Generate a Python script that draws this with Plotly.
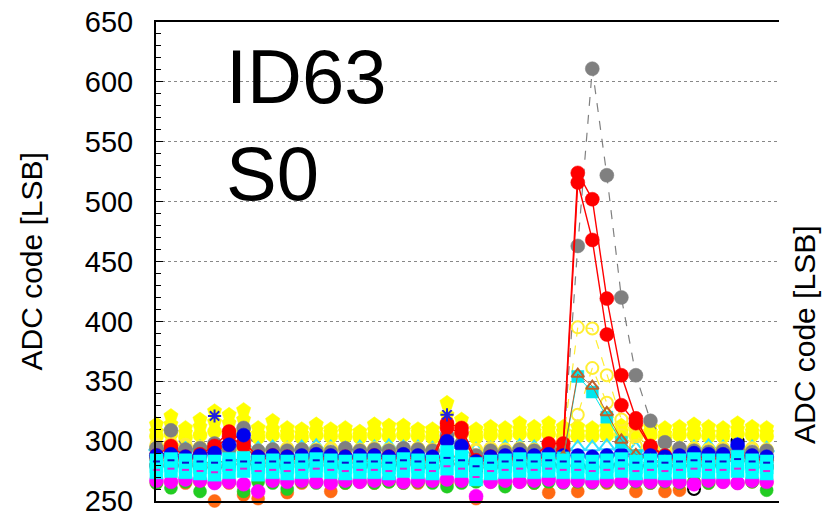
import plotly.graph_objects as go

# Sample index along the readout window
sample = list(range(43))

# ADC codes per channel/event, one list per trace
yellow_a = [314, 321, 311, 318, 325, 322, 326, 311, 317, 311,
            310, 314, 310, 311, 308, 314, 313, 313, 310, 310,
            332, 318, 310, 312, 311, 315, 312, 315, 312, 312,
            311, 312, 313, 311, 312, 311, 312, 314, 312, 311,
            315, 312, 311]
yellow_b = [308, 314, 307, 312, 316, 315, 318, 306, 310, 307,
            306, 309, 307, 308, 305, 309, 308, 309, 307, 306,
            322, 312, 306, 308, 307, 310, 308, 310, 308, 307,
            307, 308, 308, 307, 308, 306, 308, 309, 307, 307,
            310, 308, 307]
yellow_c = [304, 306, 303, 305, 308, 306, 309, 303, 305, 304,
            303, 305, 304, 304, 303, 305, 304, 305, 304, 303,
            312, 306, 303, 305, 304, 306, 305, 306, 304, 304,
            304, 305, 305, 304, 305, 303, 305, 305, 304, 304,
            306, 305, 304]
cyan_tri = [295, 296, 294, 295, 297, 295, 298, 294, 295, 294,
            295, 296, 295, 294, 295, 295, 296, 295, 295, 294,
            301, 297, 293, 294, 295, 296, 295, 296, 295, 295,
            295, 296, 295, 294, 295, 295, 294, 295, 296, 295,
            297, 295, 294]
yellow_ring_1 = [297, 298, 297, 295, 294, 293, 294, 292, 293, 294,
                 293, 293, 294, 293, 293, 294, 293, 293, 294, 293,
                 303, 297, 293, 294, 293, 294, 293, 294, 300, 395,
                 394, 355, 318, 304, 296, 294, 293, 294, 293, 294,
                 293, 294, 293]
yellow_ring_2 = [296, 297, 296, 294, 293, 292, 293, 291, 292, 293,
                 292, 292, 293, 292, 292, 293, 292, 292, 293, 292,
                 300, 296, 292, 293, 292, 293, 292, 293, 298, 322,
                 361, 332, 305, 296, 294, 293, 292, 293, 292, 293,
                 292, 293, 292]
gray = [294, 309, 293, 294, 298, 293, 311, 292, 293, 292,
        293, 292, 291, 294, 292, 293, 292, 294, 293, 292,
        305, 298, 288, 292, 291, 293, 292, 293, 294, 463,
        611, 522, 420, 355, 317, 299, 294, 292, 291, 292,
        293, 291, 292]
red_a = [288, 296, 287, 289, 296, 308, 299, 287, 288, 287,
         287, 288, 286, 287, 286, 288, 287, 288, 287, 286,
         315, 311, 284, 287, 286, 288, 287, 298, 298, 524,
         502, 419, 355, 319, 296, 288, 287, 286, 287, 288,
         289, 287, 286]
red_b = [286, 293, 285, 287, 294, 304, 296, 285, 286, 285,
         285, 286, 284, 286, 285, 286, 285, 286, 285, 284,
         311, 307, 282, 285, 284, 286, 285, 287, 292, 516,
         468, 389, 330, 315, 295, 287, 285, 284, 285, 286,
         287, 285, 284]
blue = [288, 289, 287, 288, 290, 297, 305, 287, 288, 287,
        288, 289, 288, 287, 288, 288, 287, 289, 288, 287,
        300, 296, 283, 287, 288, 289, 288, 289, 288, 288,
        287, 288, 289, 287, 288, 287, 288, 290, 289, 289,
        297, 288, 287]
blue_star = [281, 282, 280, 281, 321, 281, 282, 280, 281, 280,
             281, 281, 280, 281, 280, 281, 280, 281, 281, 280,
             322, 282, 276, 280, 281, 280, 281, 282, 281, 281,
             280, 281, 282, 280, 281, 280, 281, 281, 280, 281,
             282, 281, 280]
cyan_1 = [284, 285, 284, 283, 283, 285, 286, 283, 284, 283,
          284, 285, 284, 283, 284, 284, 283, 285, 284, 283,
          291, 287, 281, 283, 284, 285, 284, 285, 284, 284,
          283, 284, 285, 283, 284, 283, 284, 285, 284, 284,
          287, 284, 283]
cyan_2 = [279, 280, 279, 278, 278, 280, 281, 278, 279, 278,
          279, 280, 279, 278, 279, 279, 278, 280, 279, 278,
          284, 281, 275, 278, 279, 280, 279, 280, 279, 279,
          278, 279, 280, 278, 279, 278, 279, 280, 279, 279,
          281, 279, 278]
cyan_3 = [274, 275, 274, 273, 272, 274, 275, 272, 274, 273,
          274, 275, 274, 273, 274, 274, 273, 275, 274, 273,
          277, 275, 268, 273, 274, 275, 274, 275, 274, 274,
          273, 274, 275, 273, 274, 273, 274, 275, 274, 274,
          275, 274, 273]
cyan_peak = [282, 283, 282, 281, 281, 283, 284, 281, 282, 281,
             282, 283, 282, 281, 282, 282, 281, 283, 282, 281,
             288, 285, 279, 281, 282, 283, 282, 283, 286, 354,
             341, 320, 299, 288, 283, 282, 283, 282, 281, 282,
             284, 282, 281]
brown_tri = [283, 284, 283, 282, 282, 284, 285, 282, 283, 282,
             283, 284, 283, 282, 283, 283, 282, 284, 283, 282,
             289, 286, 280, 282, 283, 284, 283, 284, 287, 356,
             346, 324, 301, 289, 284, 283, 284, 283, 282, 283,
             285, 283, 282]
blue_dash = [283, 284, 282, 283, 282, 284, 283, 282, 283, 282,
             283, 284, 283, 282, 283, 283, 282, 284, 283, 282,
             286, 284, 279, 282, 283, 284, 283, 284, 283, 283,
             282, 283, 284, 282, 283, 282, 283, 284, 283, 283,
             285, 283, 282]
magenta_dash = [276, 277, 276, 275, 274, 276, 277, 275, 276, 275,
                276, 277, 276, 275, 276, 276, 275, 277, 276, 275,
                279, 277, 270, 275, 276, 277, 276, 277, 276, 276,
                275, 276, 277, 275, 276, 275, 276, 277, 276, 276,
                277, 276, 275]
magenta = [267, 266, 268, 267, 265, 266, 264, 258, 267, 266,
           267, 266, 265, 267, 266, 267, 268, 266, 267, 267,
           268, 267, 254, 266, 267, 266, 267, 268, 266, 267,
           266, 267, 266, 267, 266, 267, 266, 264, 267, 266,
           265, 267, 266]
green = [265, 261, 266, 258, 265, 266, 258, 266, 265, 260,
         266, 265, 266, 265, 266, 265, 266, 265, 266, 265,
         262, 265, 266, 266, 262, 266, 265, 266, 265, 266,
         265, 266, 265, 266, 265, 266, 265, 266, 265, 266,
         265, 266, 259]
orange = [265, 266, 265, 266, 250, 265, 255, 252, 266, 257,
          265, 266, 258, 265, 266, 265, 266, 265, 265, 266,
          265, 266, 252, 266, 265, 266, 265, 257, 266, 258,
          266, 265, 266, 258, 265, 258, 259, 266, 265, 266,
          265, 266, 265]
black = [279, 280, 279, 278, 278, 280, 281, 278, 279, 278,
         279, 280, 279, 278, 279, 279, 278, 280, 279, 278,
         282, 281, 276, 278, 279, 280, 279, 280, 279, 279,
         278, 279, 280, 278, 279, 278, 279, 260, 279, 279,
         300, 279, 278]

y_ticks = [250, 300, 350, 400, 450, 500, 550, 600, 650]

# Trace styles, drawn back to front
traces = [
    (orange, "#FF6A13", "circle", 13, None, None),
    (green, "#22CC22", "circle", 13, None, None),
    (black, "#000000", "circle-open", 12, None, None),
    (magenta, "#FF00FF", "circle", 14, None, None),
    (yellow_a, "#FFFF00", "pentagon", 15, None, None),
    (yellow_b, "#FFFF00", "pentagon", 15, None, None),
    (yellow_c, "#FFFF00", "circle", 14, None, None),
    (cyan_tri, "#33E0FF", "triangle-up-open", 13, None, None),
    (yellow_ring_1, "#FFEE33", "circle-open", 12, "dash", 1.2),
    (yellow_ring_2, "#FFEE33", "circle-open", 12, "dash", 1.2),
    (gray, "#808080", "circle", 14, "dash", 1.2),
    (red_a, "#FF0000", "circle", 14, "solid", 1.4),
    (red_b, "#FF0000", "circle", 14, "solid", 1.4),
    (blue, "#0000EE", "circle", 14, None, None),
    (blue_star, "#2222DD", "asterisk-open", 11, None, None),
    (cyan_peak, "#00E5EE", "square", 12, "solid", 1.0),
    (brown_tri, "#C0602A", "triangle-up-open", 11, "solid", 1.0),
    (cyan_1, "#00FFFF", "square", 13, None, None),
    (cyan_2, "#00FFFF", "square", 13, None, None),
    (cyan_3, "#00FFFF", "square", 13, None, None),
    (blue_dash, "#1010CC", "line-ew-open", 5, None, None),
    (magenta_dash, "#DD22DD", "line-ew-open", 5, None, None),
]

fig = go.Figure()
for values, color, symbol, size, dash, width in traces:
    has_line = dash is not None
    marker = dict(color=color, symbol=symbol, size=size)
    if symbol.endswith("open"):
        marker["line"] = dict(color=color, width=2)
    else:
        marker["line"] = dict(color=color, width=0.5)
    fig.add_trace(go.Scatter(
        x=sample, y=values,
        mode="lines+markers" if has_line else "markers",
        marker=marker,
        line=dict(color=color, dash=dash, width=width) if has_line else None,
        cliponaxis=False,
        showlegend=False,
        hoverinfo="skip",
    ))

font = "Liberation Sans, Arial, sans-serif"

fig.update_layout(
    width=823, height=513,
    margin=dict(l=156, r=44, t=22, b=12, autoexpand=False),
    paper_bgcolor="white", plot_bgcolor="white",
    font=dict(family=font, color="black"),
    xaxis=dict(
        range=[-0.03, 42.85],
        showline=True, linecolor="black", linewidth=2, mirror=True,
        showgrid=False, zeroline=False, automargin=False,
        showticklabels=False, ticks="",
    ),
    yaxis=dict(
        range=[250, 650],
        tickvals=y_ticks,
        ticks="inside", ticklen=7, tickwidth=1.2, tickcolor="black",
        tickfont=dict(size=29, family=font),
        ticklabelstandoff=15, ticklabeloverflow="allow",
        minor=dict(ticks="inside", ticklen=5, dtick=10, tickcolor="black", tickwidth=1.2),
        showline=True, linecolor="black", linewidth=2,
        showgrid=True, gridcolor="#888888", griddash="dot", gridwidth=1,
        zeroline=False, automargin=False,
    ),
    annotations=[
        dict(text="ADC code [LSB]", xref="paper", yref="paper",
             x=-0.2006, y=0.5, textangle=-90, showarrow=False,
             font=dict(size=30, family=font), xanchor="center", yanchor="middle"),
        dict(text="ADC code [LSB]", xref="paper", yref="paper",
             x=1.0417, y=0.3466, textangle=-90, showarrow=False,
             font=dict(size=30, family=font), xanchor="center", yanchor="middle"),
        dict(text="ID63", xref="paper", yref="paper",
             x=(224 - 156) / 623, y=(501 - 76) / 479, showarrow=False,
             font=dict(size=76, family=font), xanchor="left", yanchor="middle"),
        dict(text="S0", xref="paper", yref="paper",
             x=(224 - 156) / 623, y=(501 - 173) / 479, showarrow=False,
             font=dict(size=76, family=font), xanchor="left", yanchor="middle"),
    ],
)

fig.write_html("out.html")
